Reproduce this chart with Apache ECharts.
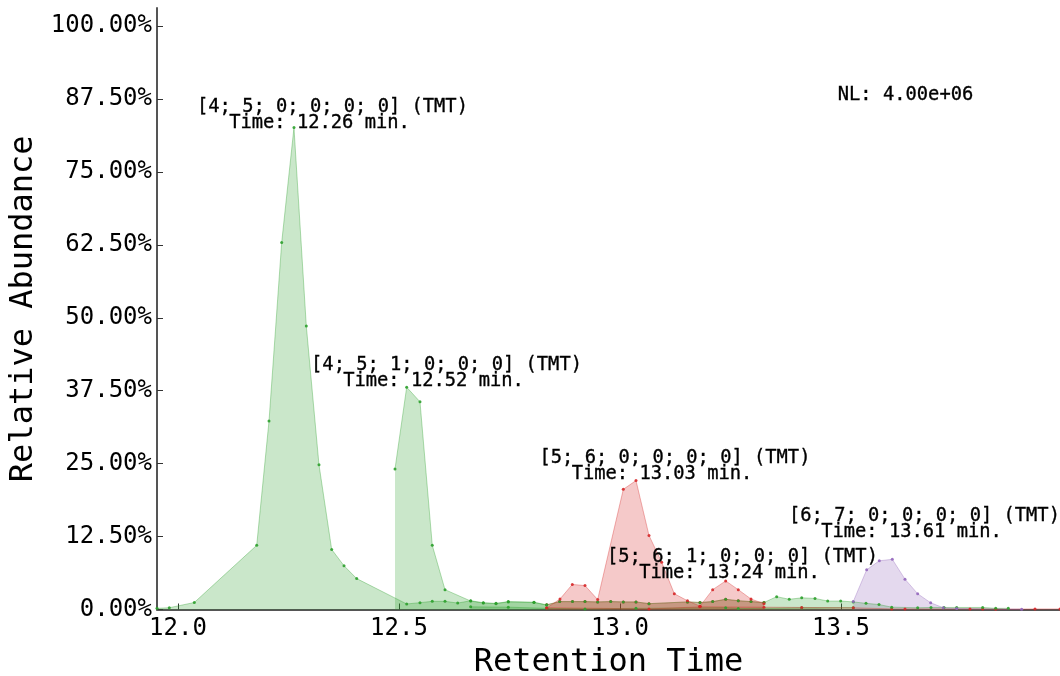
<!DOCTYPE html>
<html>
<head>
<meta charset="utf-8">
<script src="https://cdn.jsdelivr.net/npm/echarts@6/dist/echarts.min.js"></script>
<style>
  html, body { margin: 0; padding: 0; background: #fff; }
  #chart { width: 1060px; height: 676px; }
</style>
</head>
<body>
<div id="chart"></div>
<script>
// ---------- data (time in min, relative abundance in %) ----------
const xTicks = [12.0, 12.5, 13.0, 13.5];
const yTicks = [0, 12.5, 25, 37.5, 50, 62.5, 75, 87.5, 100];

// [4; 5; 0; 0; 0; 0] (TMT)
const green450 = [
  [11.9525, 0.2], [11.9803, 0.3], [12.0369, 1.2], [12.1781, 11.0], [12.2059, 32.3],
  [12.2346, 62.9], [12.2624, 82.6], [12.2903, 48.6], [12.3190, 24.8], [12.3477, 10.3],
  [12.3756, 7.5], [12.4043, 5.3], [12.5174, 0.95], [12.5475, 1.17], [12.5753, 1.4],
  [12.6041, 1.4], [12.6328, 1.1], [12.6622, 1.5], [12.6907, 1.17], [12.7195, 1.05],
  [12.7473, 1.35], [12.8054, 1.25], [12.8342, 0.8], [12.8636, 1.35], [12.8925, 1.35],
  [12.9208, 1.35], [12.9495, 1.3], [12.9790, 1.35], [13.0075, 1.3], [13.0362, 1.3],
  [13.0656, 1.0], [13.1527, 1.3], [13.1810, 1.2], [13.2097, 1.35], [13.2391, 1.75],
  [13.2676, 1.5], [13.2964, 1.35], [13.3258, 1.2], [13.3545, 2.2], [13.3830, 1.75],
  [13.4111, 2.0], [13.4412, 1.9], [13.4699, 1.45], [13.4993, 1.45], [13.5278, 1.3],
  [13.5566, 1.05], [13.5860, 0.85], [13.6147, 0.4], [13.6735, 0.3], [13.7036, 0.35],
  [13.7330, 0.35], [13.7618, 0.35], [13.8206, 0.35], [13.8500, 0.2], [13.8785, 0.2]
];
// [4; 5; 1; 0; 0; 0] (TMT)
const green451 = [
  [12.4910, 24.1], [12.5174, 38.1], [12.5475, 35.6], [12.5753, 11.0], [12.6041, 3.4],
  [12.6622, 1.45], [12.6907, 1.1], [12.7195, 1.0], [12.7473, 1.3], [12.8054, 1.2],
  [12.8342, 0.75]
];
// low-level green trace
const greenLow = [
  [12.6622, 0.45], [12.7473, 0.4], [12.8342, 0.2], [12.9208, 0.1], [13.0362, 0.2],
  [13.2391, 0.3], [13.2676, 0.15], [13.4111, 0.3], [13.5278, 0.3]
];
// low-level red traces
const redLow = [
  [12.8342, 0.3], [13.0656, 0.1], [13.1810, 0.45], [13.3258, 0.4], [13.4111, 0.35],
  [13.5278, 0.3], [13.6147, 0.1], [13.6448, 0.1], [13.7919, 0.1], [13.8206, 0.1],
  [13.8500, 0.05], [13.9389, 0.1], [13.9955, 0.1]
];
const redBase = [
  [12.8342, 0.8], [12.8636, 1.35], [12.8925, 1.35], [12.9208, 1.35], [12.9495, 1.3],
  [12.9790, 1.35], [13.0075, 1.3], [13.0362, 1.3], [13.0656, 1.0], [13.1527, 1.3],
  [13.1810, 1.2], [13.2097, 1.35], [13.2391, 1.75], [13.2676, 1.5], [13.2964, 1.35],
  [13.3258, 1.2]
];
// [5; 6; 0; 0; 0; 0] (TMT)
const red560 = [
  [12.8342, 0.25], [12.8643, 1.8], [12.8921, 4.3], [12.9208, 4.1], [12.9495, 1.7],
  [13.0075, 20.6], [13.0362, 22.1], [13.0656, 12.7], [13.0943, 8.1], [13.1229, 2.7],
  [13.1527, 1.5], [13.1810, 0.57]
];
// [5; 6; 1; 0; 0; 0] (TMT)
const red561 = [
  [13.1810, 0.57], [13.2097, 3.4], [13.2391, 4.9], [13.2676, 3.4], [13.2964, 1.8],
  [13.3258, 1.0]
];
// [6; 7; 0; 0; 0; 0] (TMT)
const purple670 = [
  [13.5278, 1.37], [13.5581, 6.8], [13.5867, 8.35], [13.6161, 8.6], [13.6448, 5.2],
  [13.6735, 2.7], [13.7029, 1.15], [13.7315, 0.3], [13.7618, 0.15], [13.9088, 0.05]
];

// annotations: label text and anchor (time, abundance) of the "Time" line
const annoTitles = ['[4; 5; 0; 0; 0; 0] (TMT)', '[4; 5; 1; 0; 0; 0] (TMT)',
  '[5; 6; 0; 0; 0; 0] (TMT)', '[5; 6; 1; 0; 0; 0] (TMT)', '[6; 7; 0; 0; 0; 0] (TMT)'];
const annoTimes = ['12.26', '12.52', '13.03', '13.24', '13.61'];
const annoX = [12.3201, 12.5781, 13.0950, 13.2477, 13.6595];
const annoY = [83.38, 39.16, 23.22, 6.26, 13.28];
const nlText = 'NL: 4.00e+06';
const nlPos = [13.646, 88.2];

// ---------- chart ----------
const FONT = 'DejaVu Sans Mono';
const GREEN = '#2ca02c', RED = '#d62728', PURPLE = '#9467bd';

function trace(name, data, color) {
  return {
    name: name, type: 'line', data: data,
    symbol: 'circle', symbolSize: 3, showSymbol: true,
    itemStyle: { color: color, opacity: 0.9 },
    lineStyle: { color: color, width: 1, opacity: 0.35 },
    areaStyle: { color: color, opacity: 0.25 },
    emphasis: { disabled: true },
    animation: false, z: 2
  };
}

const annoPoints = annoX.map((x, i) => [x, annoY[i]]);
const annoLabel = {
  show: true, position: 'inside', fontFamily: FONT, fontSize: 18.75,
  color: '#000', opacity: 1, textBorderColor: '#000', textBorderWidth: 0.35
};

const option = {
  backgroundColor: '#fff',
  animation: false,
  grid: { left: 157, right: 0, top: 8, bottom: 66.5, outerBoundsMode: 'none', containLabel: false },
  xAxis: {
    type: 'value', min: 11.9525, max: 13.9955,
    name: 'Retention Time', nameLocation: 'middle', nameGap: 37,
    nameTextStyle: { fontFamily: FONT, fontSize: 32, color: '#000' },
    axisLine: { show: true, lineStyle: { color: '#555', width: 2 } },
    axisTick: { show: true, inside: true, length: 6, customValues: xTicks, lineStyle: { color: '#333', width: 1 } },
    axisLabel: { customValues: xTicks, formatter: v => v.toFixed(1), fontFamily: FONT, fontSize: 24, color: '#000', margin: 7 },
    splitLine: { show: false }
  },
  yAxis: {
    type: 'value', min: 0, max: 103.1,
    name: 'Relative Abundance', nameLocation: 'middle', nameGap: 108,
    nameTextStyle: { fontFamily: FONT, fontSize: 32, color: '#000' },
    axisLine: { show: true, lineStyle: { color: '#555', width: 2 } },
    axisTick: { show: true, inside: true, length: 6, customValues: yTicks, lineStyle: { color: '#333', width: 1 } },
    axisLabel: { customValues: yTicks, formatter: v => v.toFixed(2) + '%', fontFamily: FONT, fontSize: 24, color: '#000', margin: 5, padding: [4, 0, 0, 0] },
    splitLine: { show: false }
  },
  series: [
    trace('greenLow', greenLow, GREEN),
    trace('redLow', redLow, RED),
    trace('redBase', redBase, RED),
    trace('[4; 5; 0; 0; 0; 0]', green450, GREEN),
    trace('[4; 5; 1; 0; 0; 0]', green451, GREEN),
    trace('[5; 6; 0; 0; 0; 0]', red560, RED),
    trace('[5; 6; 1; 0; 0; 0]', red561, RED),
    trace('[6; 7; 0; 0; 0; 0]', purple670, PURPLE),
    {
      type: 'scatter', data: annoPoints, symbolSize: 1, z: 10, silent: true,
      itemStyle: { color: 'rgba(0,0,0,0)' },
      label: Object.assign({}, annoLabel, { formatter: p => 'Time: ' + annoTimes[p.dataIndex] + ' min.' })
    },
    {
      type: 'scatter', data: annoPoints, symbolSize: 1, z: 11, silent: true,
      itemStyle: { color: 'rgba(0,0,0,0)' },
      label: Object.assign({}, annoLabel, { offset: [13, -15.5], formatter: p => annoTitles[p.dataIndex] })
    },
    {
      type: 'scatter', data: [nlPos], symbolSize: 1, z: 11, silent: true,
      itemStyle: { color: 'rgba(0,0,0,0)' },
      label: Object.assign({}, annoLabel, { formatter: () => nlText })
    }
  ]
};

const chart = echarts.init(document.getElementById('chart'), null, { renderer: 'canvas' });
chart.setOption(option);
</script>
</body>
</html>
